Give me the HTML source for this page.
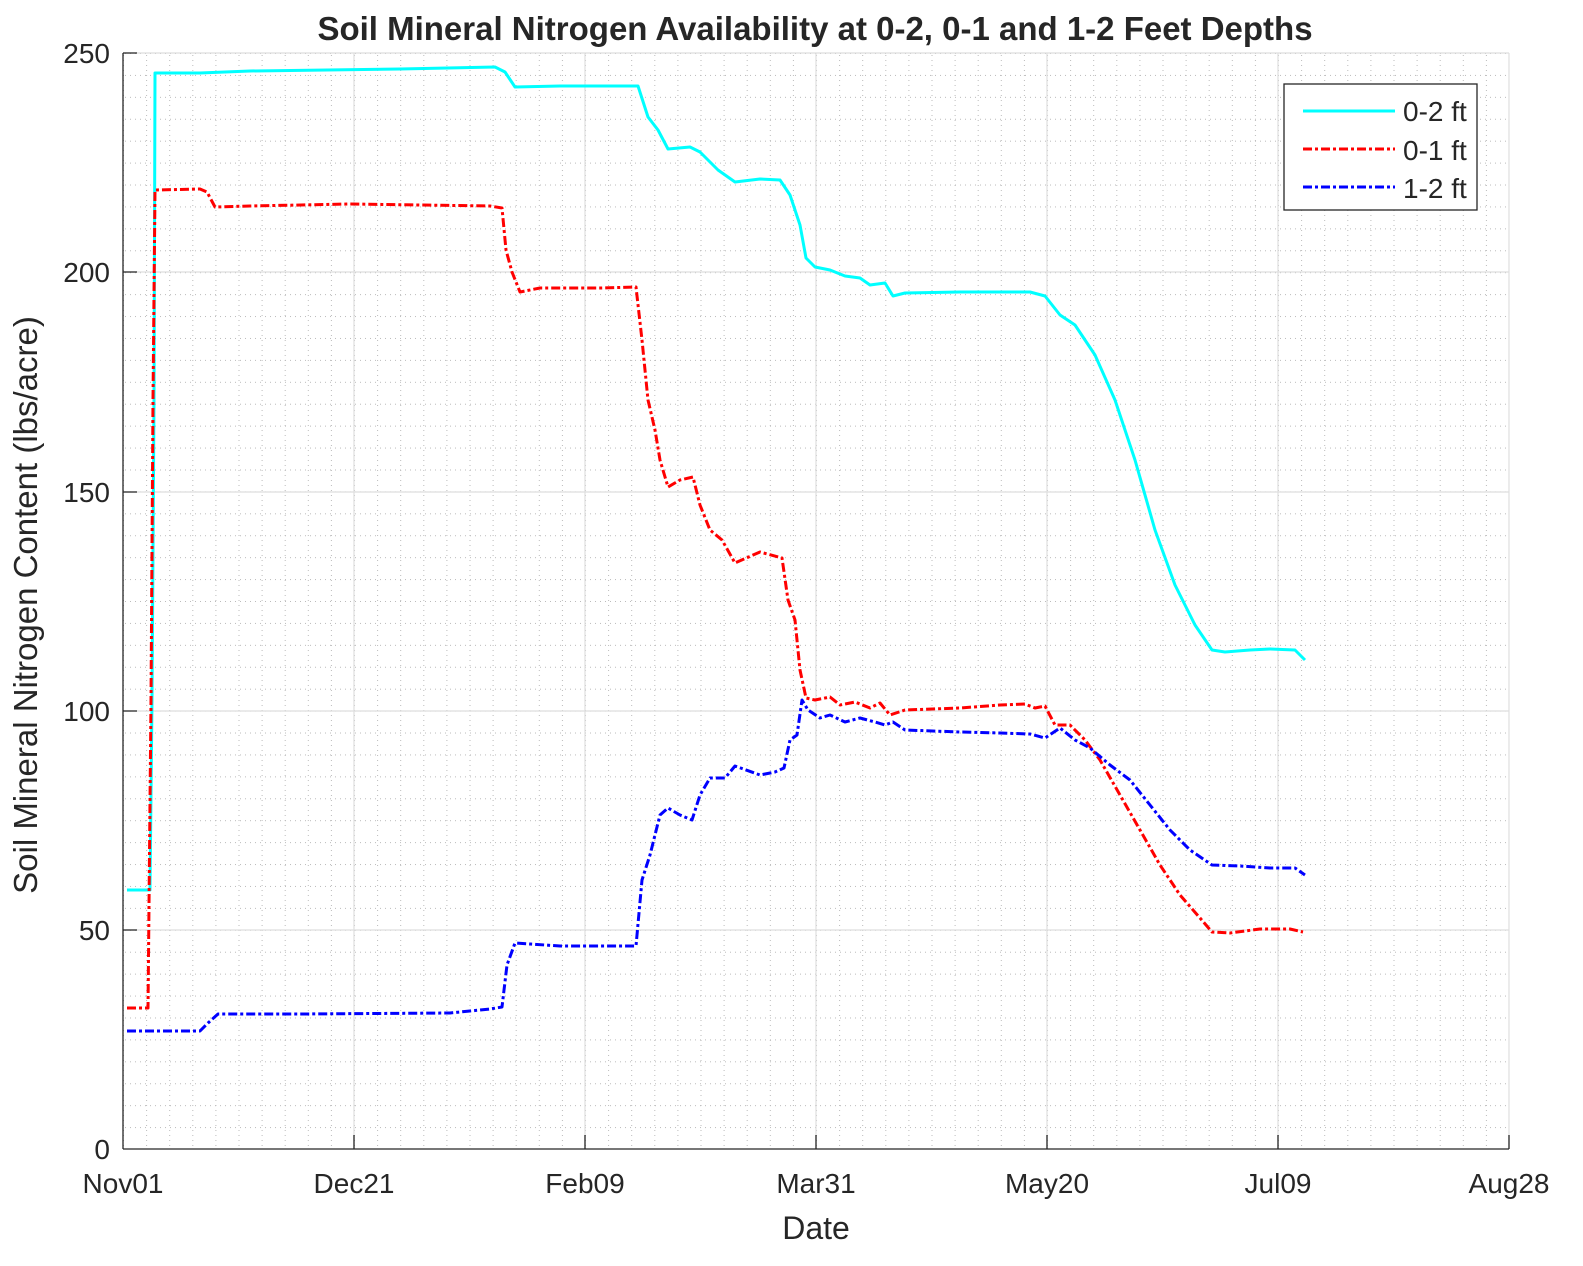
<!DOCTYPE html><html><head><style>body{margin:0;background:#fff}svg{display:block}text{font-family:"Liberation Sans",Arial,sans-serif;fill:#262626}</style></head><body>
<svg width="1583" height="1266" viewBox="0 0 1583 1266" xmlns="http://www.w3.org/2000/svg">
<defs>
<pattern id="mx" x="123" y="0" width="23.1" height="1266" patternUnits="userSpaceOnUse"><line x1="0.5" y1="0" x2="0.5" y2="1266" stroke="#bbb" stroke-width="1" stroke-dasharray="1,4"/></pattern>
<pattern id="my" x="0" y="1149" width="1583" height="21.92" patternUnits="userSpaceOnUse"><line x1="0" y1="0.5" x2="1583" y2="0.5" stroke="#bbb" stroke-width="1" stroke-dasharray="1,4"/></pattern>
</defs>
<rect x="123" y="53" width="1386" height="1096" fill="url(#mx)"/>
<rect x="123" y="53" width="1386" height="1096" fill="url(#my)"/>
<g stroke="#dedede" stroke-width="1.2">
<line x1="354" y1="53" x2="354" y2="1149"/><line x1="585" y1="53" x2="585" y2="1149"/><line x1="816" y1="53" x2="816" y2="1149"/><line x1="1047" y1="53" x2="1047" y2="1149"/><line x1="1278" y1="53" x2="1278" y2="1149"/><line x1="1509" y1="53" x2="1509" y2="1149"/>
<line x1="123" y1="53" x2="1509" y2="53"/><line x1="123" y1="272" x2="1509" y2="272"/><line x1="123" y1="492" x2="1509" y2="492"/><line x1="123" y1="711" x2="1509" y2="711"/><line x1="123" y1="930" x2="1509" y2="930"/>
</g>
<g stroke="#262626" stroke-width="1.3" fill="none">
<line x1="123" y1="53" x2="123" y2="1149"/><line x1="123" y1="1149" x2="1509" y2="1149"/>
<path d="M123 53h14M123 272h14M123 492h14M123 711h14M123 930h14M354 1149v-14M585 1149v-14M816 1149v-14M1047 1149v-14M1278 1149v-14M1509 1149v-14"/>
</g>
<g font-size="28" text-anchor="end">
<text x="110" y="1159">0</text><text x="110" y="940">50</text><text x="110" y="721">100</text><text x="110" y="502">150</text><text x="110" y="282">200</text><text x="110" y="63">250</text>
</g>
<g font-size="28" text-anchor="middle">
<text x="123" y="1193">Nov01</text><text x="354" y="1193">Dec21</text><text x="585" y="1193">Feb09</text><text x="816" y="1193">Mar31</text><text x="1047" y="1193">May20</text><text x="1278" y="1193">Jul09</text><text x="1509" y="1193">Aug28</text>
</g>
<text x="816" y="1239" font-size="32" text-anchor="middle">Date</text>
<text transform="translate(37,605) rotate(-90)" font-size="33" text-anchor="middle">Soil Mineral Nitrogen Content (lbs/acre)</text>
<text x="815" y="40" font-size="33" font-weight="bold" text-anchor="middle" fill="#000">Soil Mineral Nitrogen Availability at 0-2, 0-1 and 1-2 Feet Depths</text>
<g fill="none" stroke-width="3" stroke-linejoin="round">
<polyline stroke="#00ffff" points="127,890 150,890 152,700 154,400 155,73 200,73 250,71 400,69 495,67 505,72 515,87 560,86 638,86 648,117 658,130 668,149 690,147 700,152 718,170 735,182 760,179 780,180 790,195 800,225 806,258 815,267 830,270 845,276 860,278 870,285 885,283 893,296 905,293 960,292 1000,292 1030,292 1045,296 1060,315 1075,325 1095,355 1115,400 1135,460 1155,530 1175,585 1195,625 1212,650 1225,652 1250,650 1270,649 1295,650 1305,660"/>
<polyline stroke="#ff0000" stroke-dasharray="9,3,3,3" points="127,1008 148,1008 151,700 153,400 155,190 200,189 207,192 215,207 250,206 350,204 490,206 502,208 506,250 512,272 520,292 540,288 600,288 636,287 642,340 648,400 655,430 660,460 668,487 680,480 693,477 700,505 710,530 722,540 735,563 760,552 782,558 788,600 795,620 800,670 806,698 815,700 830,697 840,705 855,702 870,708 880,703 890,715 905,710 960,708 1000,705 1025,704 1035,708 1045,706 1055,725 1070,725 1085,740 1100,760 1120,795 1140,830 1160,865 1180,895 1200,918 1212,932 1230,933 1260,929 1290,929 1303,932"/>
<polyline stroke="#0000ff" stroke-dasharray="9,3,3,3" points="127,1031 200,1031 208,1023 218,1014 300,1014 450,1013 490,1009 502,1007 507,965 515,943 530,944 560,946 600,946 636,946 642,880 650,855 660,815 668,808 680,815 692,820 700,795 710,778 725,778 735,766 760,775 775,772 784,768 790,740 797,735 802,700 808,710 820,718 830,715 845,722 860,718 875,722 885,725 893,722 905,730 960,732 1000,733 1030,734 1045,738 1060,728 1075,740 1090,748 1110,765 1130,780 1150,805 1170,830 1190,850 1212,865 1240,866 1270,868 1295,868 1305,875"/>
</g>
<rect x="1284" y="84" width="193" height="126" fill="#fff" stroke="#262626" stroke-width="1.3"/>
<g stroke-width="3"><line x1="1303" y1="111" x2="1395" y2="111" stroke="#00ffff"/><line x1="1303" y1="149" x2="1395" y2="149" stroke="#ff0000" stroke-dasharray="9,3,3,3"/><line x1="1303" y1="187" x2="1395" y2="187" stroke="#0000ff" stroke-dasharray="9,3,3,3"/></g>
<g font-size="28"><text x="1403" y="121">0-2 ft</text><text x="1403" y="160">0-1 ft</text><text x="1403" y="198">1-2 ft</text></g>
</svg></body></html>
